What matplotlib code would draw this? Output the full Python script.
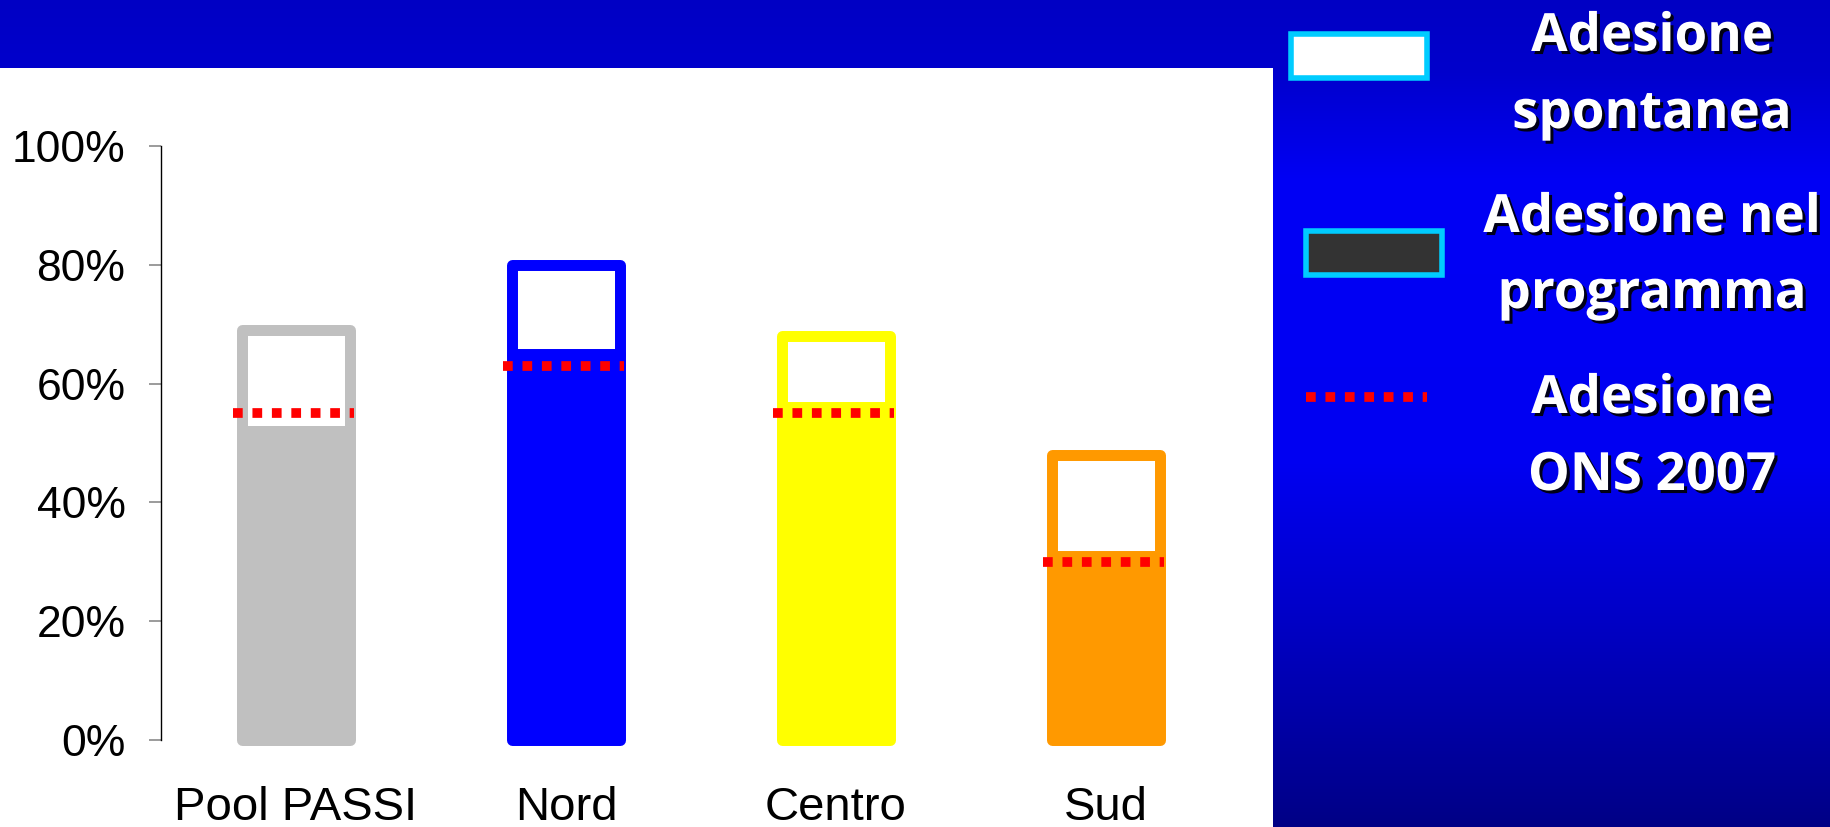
import numpy as np
import matplotlib
matplotlib.use("Agg")
import matplotlib.pyplot as plt
import matplotlib.patheffects as pe
from matplotlib.patches import Rectangle
from matplotlib.ticker import PercentFormatter

# Screening adherence by area (%)
categories = ["Pool PASSI", "Nord", "Centro", "Sud"]
adesione_programma = [52, 65, 56, 31]   # within the organised programme
adesione_spontanea = [17, 15, 12, 17]   # spontaneous, on top of the programme
adesione_ons_2007 = [55, 63, 55, 30]    # ONS 2007 reference
y_ticks = [0, 20, 40, 60, 80, 100]
legend_labels = [["Adesione", "spontanea"],
                 ["Adesione nel", "programma"],
                 ["Adesione", "ONS 2007"]]

bar_colors = ["#C0C0C0", "#0000FF", "#FFFF00", "#FF9900"]
CYAN = "#00CCFF"
RED = "#FF0000"

W, H = 1831, 827
fig = plt.figure(figsize=(W / 100, H / 100), dpi=100)

# --- slide background: vertical blue gradient + white chart panel ---------
bg = fig.add_axes([0, 0, 1, 1])
stops_y = [0, 70, 180, 460, 600, 827]
stops_b = [0xC4, 0xCC, 0xF5, 0xF2, 0xCC, 0x85]
blue = np.interp(np.arange(H), stops_y, stops_b) / 255.0
grad = np.zeros((H, 1, 3))
grad[:, 0, 2] = blue
bg.imshow(grad, extent=[0, W, H, 0], aspect="auto", interpolation="bilinear")
bg.add_patch(Rectangle((0, 68), 1273, H - 68, facecolor="white", edgecolor="none"))
bg.set_xlim(0, W)
bg.set_ylim(H, 0)
bg.axis("off")

# --- chart -----------------------------------------------------------------
ax = fig.add_axes([161 / W, 1 - 740 / H, 1080 / W, (740 - 146) / H])
ax.patch.set_alpha(0)
x = np.arange(len(categories))
bar_w = 0.4
edge_lw = 7.9

for xi, prog, spont, col in zip(x, adesione_programma, adesione_spontanea, bar_colors):
    ax.bar(xi, prog, width=bar_w, color=col, edgecolor=col, linewidth=edge_lw,
           joinstyle="round", zorder=2, clip_on=False)
    ax.bar(xi, spont, bottom=prog, width=bar_w, color="white", edgecolor=col,
           linewidth=edge_lw, joinstyle="round", zorder=3, clip_on=False)

for xi, ons in zip(x, adesione_ons_2007):
    ax.plot([xi - 0.235, xi + 0.215], [ons, ons], color=RED, lw=7,
            linestyle=(0, (1, 1)), dash_capstyle="butt", zorder=4, clip_on=False)

ax.set_xlim(-0.5, 3.5)
ax.set_ylim(0, 100)
ax.set_yticks(y_ticks)
ax.yaxis.set_major_formatter(PercentFormatter(decimals=0))
ax.set_xticks(x, categories)

for side in ("top", "right", "bottom"):
    ax.spines[side].set_visible(False)
ax.spines["left"].set_color("black")
ax.spines["left"].set_linewidth(1.0)

ax.tick_params(axis="y", length=9, width=1.1, color="#808080", pad=16.5,
               labelsize=32, labelcolor="black")
ax.tick_params(axis="x", length=0, pad=33, labelsize=34, labelcolor="black")
for lab in ax.get_xticklabels() + ax.get_yticklabels():
    lab.set_family("Liberation Sans")

# --- legend on the blue panel ------------------------------------------------
bg.add_patch(Rectangle((1290.75, 33.5), 136.5, 44.6, facecolor="white",
                       edgecolor=CYAN, lw=4.0, zorder=3))
bg.add_patch(Rectangle((1305.75, 230.5), 136.5, 44.3, facecolor="#333333",
                       edgecolor=CYAN, lw=4.0, zorder=3))
bg.plot([1306, 1427], [397, 397], color=RED, lw=7, linestyle=(0, (1, 1)),
        dash_capstyle="butt", zorder=3)

shadow = [pe.SimplePatchShadow(offset=(2.2, -2.2), shadow_rgbFace="black", alpha=0.9),
          pe.Normal()]
baselines = [(51, 128), (232, 308), (413, 490)]
for lines, (b1, b2) in zip(legend_labels, baselines):
    for txt, yb in zip(lines, (b1, b2)):
        bg.text(1652, yb, txt, ha="center", va="baseline", color="white",
                fontsize=38, fontweight="bold", family="Open Sans",
                path_effects=shadow, zorder=4)

fig.savefig("out.png", dpi=100)
